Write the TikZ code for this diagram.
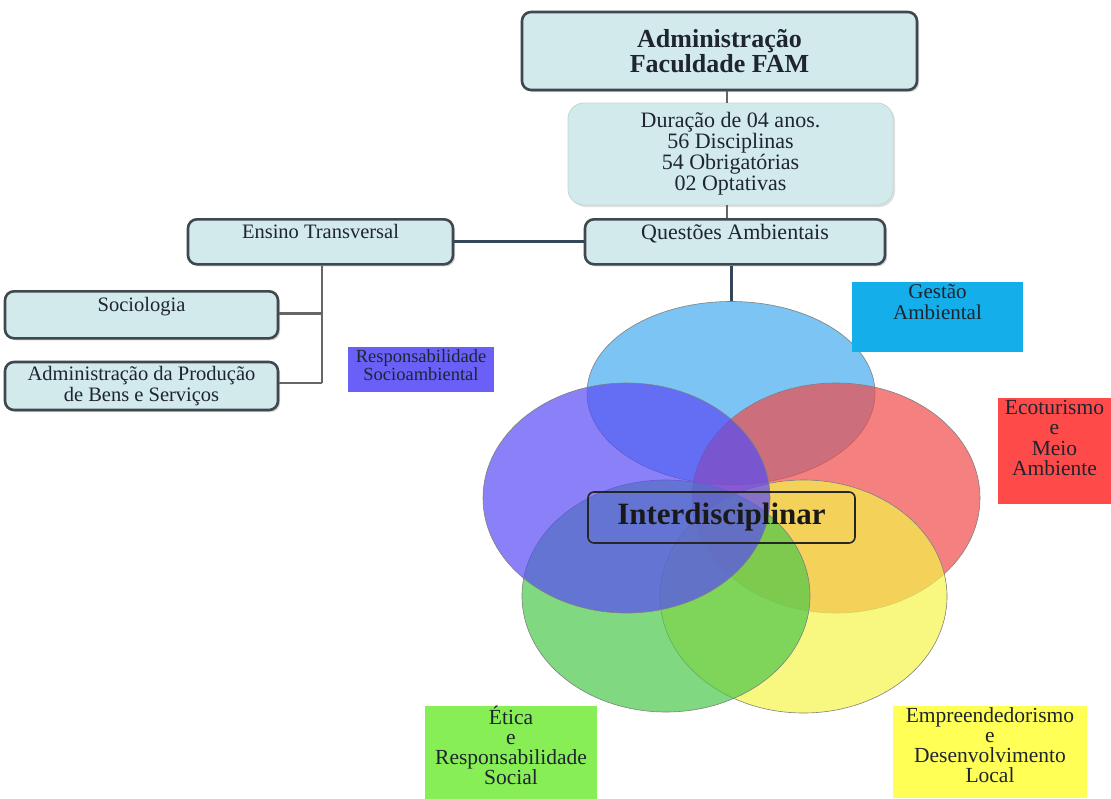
\documentclass[tikz,border=0pt]{standalone}
\usepackage{fontspec}
\setmainfont{Liberation Serif}
\usetikzlibrary{shapes.geometric,shadows}
\definecolor{boxfill}{HTML}{D3EAEC}
\definecolor{boxline}{HTML}{3E484E}
\definecolor{conn}{HTML}{33465A}
\definecolor{txt}{HTML}{1E2430}
\definecolor{cblue}{HTML}{44ABEF}
\definecolor{cpurple}{HTML}{584AF5}
\definecolor{cred}{HTML}{EF4A4A}
\definecolor{cgreen}{HTML}{4AC74A}
\definecolor{cyellow}{HTML}{F5F54A}
\definecolor{tresp}{HTML}{6A60F8}
\definecolor{tges}{HTML}{14AEEA}
\definecolor{teco}{HTML}{FF4A4A}
\definecolor{tet}{HTML}{88EE55}
\definecolor{temp}{HTML}{FFFF55}
\tikzset{
  graybox/.style={draw=boxline, line width=2.6pt, fill=boxfill, rounded corners=9pt,
    drop shadow={shadow xshift=2pt, shadow yshift=-2pt, opacity=0.35},
    align=center, text=txt, inner sep=2pt},
  softbox/.style={draw=boxfill!80!gray, line width=0.8pt, fill=boxfill, rounded corners=16pt,
    drop shadow={shadow xshift=2pt, shadow yshift=-2pt, opacity=0.25},
    align=center, text=txt},
  tagbox/.style={rectangle, align=center, text=txt, inner sep=0pt},
  venn/.style={ellipse, draw=black!50, line width=0.6pt, fill opacity=0.7, inner sep=0pt},
  conline/.style={draw=conn, line width=3pt},
  thinline/.style={draw=gray!80!black, line width=2pt},
}
\begin{document}
\begin{tikzpicture}[x=1pt,y=-1pt]
\useasboundingbox (0,0) rectangle (1111,798);
% top column
\node[graybox, minimum width=395, minimum height=78, font=\fontsize{26}{25}\bfseries\selectfont]
  (adm) at (719.5,51) {Administração\\Faculdade FAM};
\node[softbox, minimum width=325, minimum height=102, font=\fontsize{22}{21}\selectfont]
  (dur) at (730.5,154) {Duração de 04 anos.\\56 Disciplinas\\54 Obrigatórias\\02 Optativas};
\node[graybox, minimum width=300, minimum height=45, font=\fontsize{22}{22}\selectfont, anchor=north]
  (que) at (735,218) {Questões Ambientais\\[-2pt]\mbox{}};
% left branch
\node[graybox, minimum width=265, minimum height=45, font=\fontsize{20.5}{22}\selectfont, anchor=north]
  (ens) at (320.5,218) {Ensino Transversal\\[-2pt]\mbox{}};
\node[graybox, minimum width=273, minimum height=47, font=\fontsize{20.5}{22}\selectfont, anchor=north]
  (soc) at (141.5,290) {Sociologia\\[-2pt]\mbox{}};
\node[graybox, minimum width=273, minimum height=48, font=\fontsize{20.5}{21}\selectfont]
  (apr) at (141.5,386) {Administração da Produção\\de Bens e Serviços};
\coordinate (j1) at (322,313.5);
\coordinate (j2) at (322,383);
% connectors
\draw[thinline] (adm.south -| 727,0) -- (dur.north -| 727,0);
\draw[thinline] (dur.south -| 727,0) -- (que.north -| 727,0);
\draw[conline] (ens.east) -- (que.west);
\draw[thinline, line width=2.4pt] (ens.south -| j1) -- (j2);
\draw[thinline, line width=2.4pt] (soc.east |- j1) -- (j1);
\draw[thinline, line width=2.4pt] (apr.east |- j2) -- (j2);
% venn
\node[venn, fill=cblue, minimum width=288, minimum height=183] (vb) at (731,393) {};
\node[venn, fill=cred, minimum width=288, minimum height=230] (vr) at (836,498) {};
\node[venn, fill=cyellow, minimum width=287, minimum height=233] (vy) at (803.5,596.5) {};
\node[venn, fill=cgreen, minimum width=288, minimum height=232] (vg) at (666,596) {};
\node[venn, fill=cpurple, minimum width=287, minimum height=230] (vp) at (626.5,498) {};
\draw[conline] (que.south -| vb.north) -- (vb.north);
\node[draw=black!85, line width=1.6pt, rounded corners=6pt, minimum width=267, minimum height=51,
  font=\fontsize{31}{32}\bfseries\selectfont, text=black!90] (inter) at (721.5,517.5) {Interdisciplinar};
% tags
\node[tagbox, fill=tresp, minimum width=146, minimum height=36, anchor=north,
  font=\fontsize{18.5}{18}\selectfont]
  (lresp) at (421,347) {\rule{0pt}{15pt}Responsabilidade\\Socioambiental\\[-6pt]\mbox{}};
\node[tagbox, fill=tges, minimum width=171, minimum height=65, anchor=north,
  font=\fontsize{21}{21}\selectfont]
  (lges) at (937.5,282) {\rule{0pt}{16pt}Gestão\\Ambiental\\[12pt]\mbox{}};
\node[tagbox, fill=teco, minimum width=113, minimum height=100, anchor=north,
  font=\fontsize{21.5}{20.5}\selectfont]
  (leco) at (1054.5,398) {\rule{0pt}{16pt}Ecoturismo\\e\\Meio\\Ambiente\\[8pt]\mbox{}};
\node[tagbox, fill=tet, minimum width=172, minimum height=92, anchor=north,
  font=\fontsize{21.5}{20}\selectfont]
  (let) at (511,706) {\rule{0pt}{16pt}Ética\\e\\Responsabilidade\\Social\\[-4pt]\mbox{}};
\node[tagbox, fill=temp, minimum width=194, minimum height=92, anchor=north,
  font=\fontsize{21.5}{20}\selectfont]
  (lemp) at (990,706) {\rule{0pt}{16pt}Empreendedorismo\\e\\Desenvolvimento\\Local\\[-4pt]\mbox{}};
\end{tikzpicture}
\end{document}
